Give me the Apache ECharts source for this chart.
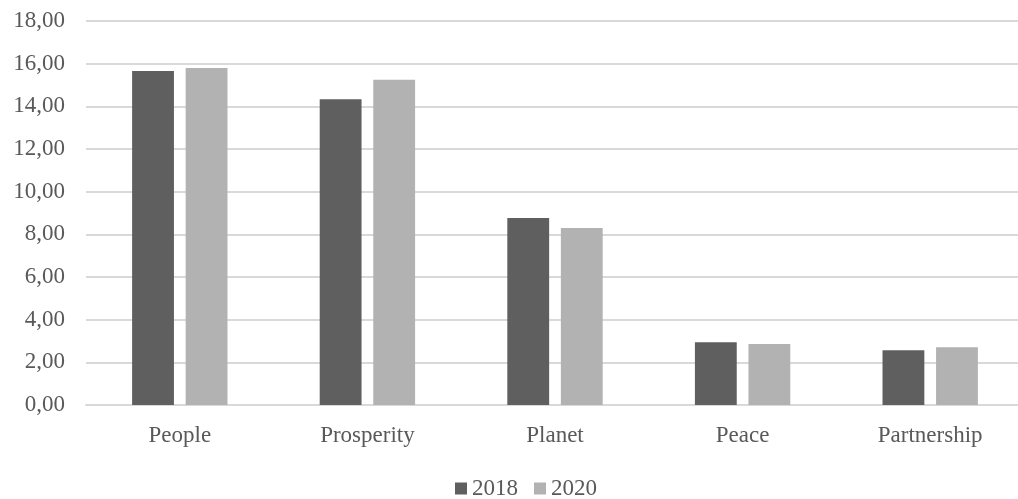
<!DOCTYPE html>
<html>
<head>
<meta charset="utf-8">
<script src="https://cdn.jsdelivr.net/npm/echarts@6/dist/echarts.min.js"></script>
<style>html,body{margin:0;padding:0;background:#fff;overflow:hidden}</style>
</head>
<body>
<div id="chart" style="width:1030px;height:499px;"></div>
<script>
var categories = ['People', 'Prosperity', 'Planet', 'Peace', 'Partnership'];
var values2018 = [15.66, 14.33, 8.77, 2.94, 2.57];
var values2020 = [15.80, 15.25, 8.30, 2.86, 2.71];

var font = '"Liberation Serif", "Times New Roman", serif';
var chart = echarts.init(document.getElementById('chart'));
var option = {
    animation: false,
    textStyle: { fontFamily: font },
    grid: { left: 86, right: 6, top: 21, bottom: 94 },
    legend: {
        top: 472,
        left: 450,
        itemWidth: 12,
        itemHeight: 12,
        itemGap: 16,
        icon: 'rect',
        textStyle: { color: '#595959', fontSize: 23, fontFamily: font },
        data: ['2018', '2020']
    },
    xAxis: {
        type: 'category',
        data: categories,
        axisLine: { lineStyle: { color: '#d9d9d9', width: 2 } },
        axisTick: { show: false },
        axisLabel: { color: '#595959', fontSize: 23, margin: 19, fontFamily: font }
    },
    yAxis: {
        type: 'value',
        min: 0,
        max: 18,
        interval: 2,
        axisLine: { show: false },
        axisTick: { show: false },
        splitLine: { lineStyle: { color: '#d9d9d9', width: 2 } },
        axisLabel: {
            color: '#595959', fontSize: 23, margin: 21, fontFamily: font,
            formatter: function (v) { return v.toFixed(2).replace('.', ','); }
        }
    },
    series: [{
        name: '2018',
        type: 'bar',
        data: values2018,
        barWidth: '22.3%',
        barGap: '28%',
        itemStyle: { color: '#5f5f5f' }
    }, {
        name: '2020',
        type: 'bar',
        data: values2020,
        barWidth: '22.3%',
        itemStyle: { color: '#b2b2b2' }
    }]
};
chart.setOption(option);
</script>
</body>
</html>
